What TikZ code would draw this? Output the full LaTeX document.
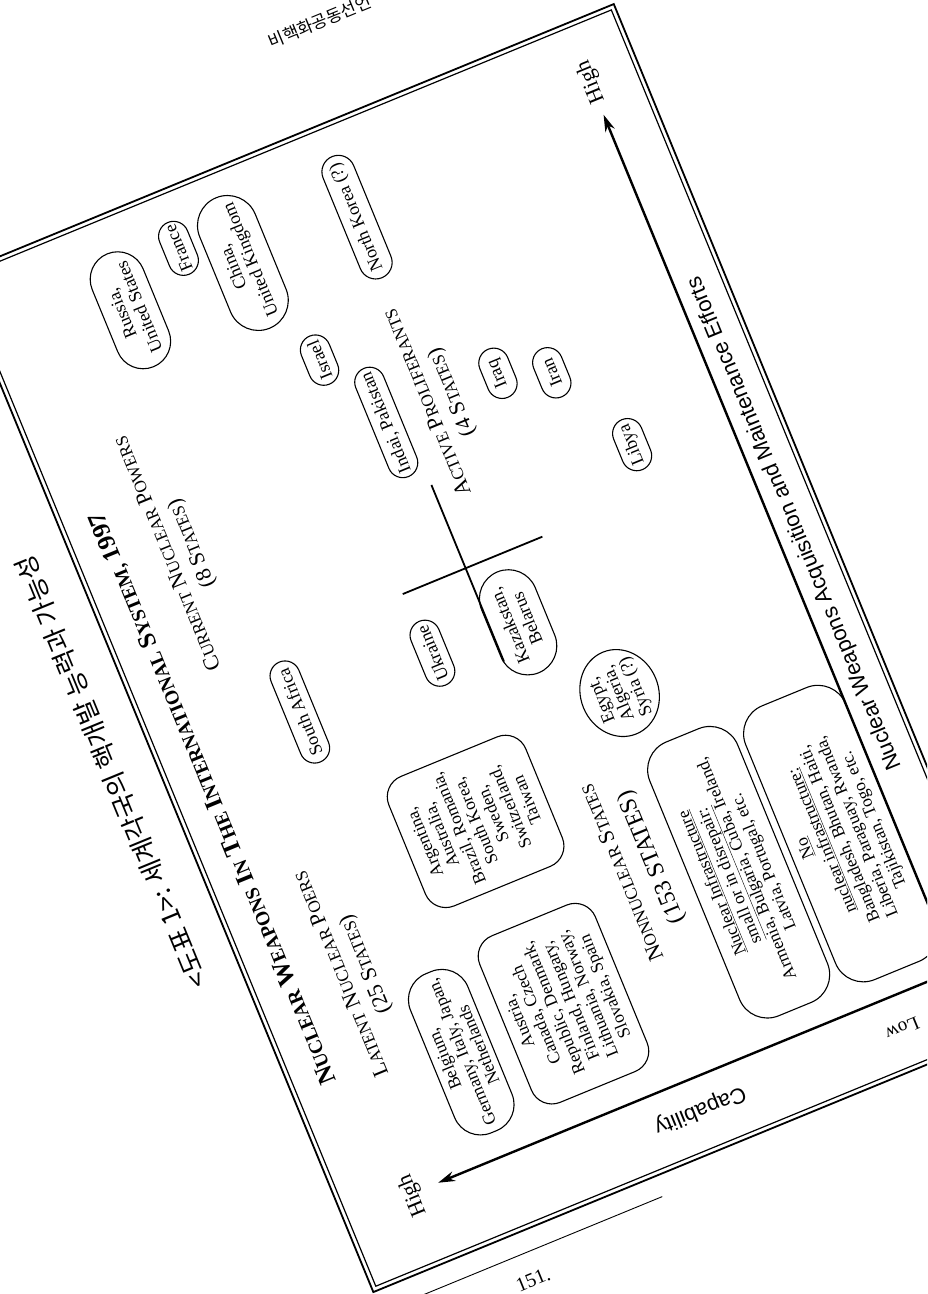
\documentclass[tikz,border=0pt]{standalone}
\usepackage{fontspec}
\setmainfont{Liberation Serif}
\setsansfont{Liberation Sans}
\newfontfamily\kor{Noto Sans CJK KR}
\usetikzlibrary{arrows.meta,shapes.misc,shapes.geometric}

% fake small capitals
\newcommand{\smc}[1]{\scalebox{0.78}{#1}}

\begin{document}
\begin{tikzpicture}[x=1pt,y=1pt,
  pill/.style={draw, rounded rectangle, line width=1.1pt, inner xsep=4pt, inner ysep=2pt,
    minimum height=30pt, align=center, font=\fontsize{18}{19}\selectfont},
  rbox/.style={draw, rounded corners=22pt, line width=1.1pt, align=center,
    font=\fontsize{17.5}{18.5}\selectfont},
  head/.style={align=center, font=\fontsize{22}{26}\selectfont},
  axis/.style={line width=2.4pt, -{Stealth[length=17pt,width=10pt]}},
  axlabel/.style={font=\sffamily\fontsize{22}{24}\selectfont},
  end/.style={font=\fontsize{22}{24}\selectfont}]

\useasboundingbox (0,0) rectangle (927,-1294);
\clip (0,0) rectangle (927,-1294);

% running head of the page
\node[anchor=south west, inner sep=0pt, rotate=22.34, font=\kor\fontsize{17}{17}\selectfont]
  (runhead) at (272,-50) {비핵화공동선언};

\begin{scope}[shift={(1026,-1019)}, rotate=112.34, transform shape]
  % caption, rule and page number
  \node[font=\kor\fontsize{26}{26}\selectfont] (caption) at (576,752)
    {<도표 1>: 세계각국의 핵개발 능력과 가능성};
  \coordinate (rule1) at (-26,404);
  \coordinate (rule2) at (-26,720);
  \draw[line width=0.9pt] (rule1) -- (rule2);
  \node[rotate=-90, font=\fontsize{20}{20}\selectfont] (pageno) at (-54,555) {151.};

  % frame
  \draw[line width=1.8pt] (-4.5,-4.5) rectangle (1095.5,707.5);
  \draw[line width=1.2pt] (0,0) rectangle (1091,703);

  % axes
  \coordinate (o) at (72,47);
  \coordinate (xend) at (997,47);
  \coordinate (yend) at (72,606);
  \draw[axis] (o) -- (xend);
  \draw[axis] (o) -- (yend);
  \node[end] (highx) at (1032,46) {High};
  \node[end] (highy) at (70,634) {High};
  \node[end, rotate=90, font=\fontsize{19}{20}\selectfont] (low) at (38,118) {Low};
  \node[axlabel, rotate=90] (capab) at (40,336) {Capability};
  \node[axlabel] (effort) at (546,25) {Nuclear Weapons Acquisition and Maintenance Efforts};

  % headings
  \node[head, font=\bfseries\fontsize{25}{27}\selectfont] (title) at (513,668)
    {N\smc{UCLEAR} W\smc{EAPONS} I\smc{N} T\smc{HE} I\smc{NTERNATIONAL} S\smc{YSTEM,} 1997};
  \node[head] (latent) at (302,602)
    {L\smc{ATENT} N\smc{UCLEAR} P\smc{OERS}\\(25 S\smc{TATES})};
  \node[head] (current) at (757,603)
    {C\smc{URRENT} N\smc{UCLEAR} P\smc{OWERS}\\(8 S\smc{TATES})};
  \node[head] (active) at (798,305)
    {A\smc{CTIVE} P\smc{ROLIFERANTS}\\(4 S\smc{TATES})};
  \node[head] (nonnuc1) at (289,319) {N\smc{ONNUCLEAR} S\smc{TATES}};
  \node[head, font=\fontsize{24}{26}\selectfont] (nonnuc2) at (292,284) {(153 STATES)};

  % cross
  \coordinate (crossw) at (529,347);
  \coordinate (crosse) at (720,347);
  \coordinate (crosss) at (630,264);
  \coordinate (crossn) at (630,415);
  \draw[line width=1.8pt] (crossw) -- (crosse) (crosss) -- (crossn);

  % current nuclear powers and proliferants
  \node[pill, minimum width=130pt, minimum height=55pt] (rususa) at (996,559) {Russia,\\United States};
  \node[pill, minimum width=64pt] (france) at (1035,491) {France};
  \node[pill, minimum width=140pt, minimum height=60pt] (chinauk) at (997,437) {China,\\United Kingdom};
  \node[pill, minimum width=139pt, minimum height=33pt] (nkorea) at (996,314) {North Korea (?)};
  \node[pill, minimum width=60pt] (israel) at (878,403) {Israel};
  \node[pill, minimum width=125pt] (indpak) at (795,365) {Indai, Pakistan};
  \node[pill, minimum width=60pt] (iraq) at (798,243) {Iraq};
  \node[pill, minimum width=60pt] (iran) at (778,193) {Iran};
  \node[pill, minimum width=62pt] (libya) at (681,146) {Libya};
  \node[pill, minimum width=116pt] (safrica) at (560,555) {South Africa};
  \node[pill, minimum width=77pt] (ukraine) at (564,410) {Ukraine};
  \node[pill, minimum width=117pt, minimum height=58pt] (kazbel) at (560,319) {Kazakstan,\\Belarus};
  \node[draw, ellipse, line width=1.1pt, inner sep=0pt, minimum width=88pt, minimum height=78pt,
    align=center, font=\fontsize{18}{18.5}\selectfont] (egypt) at (456,252) {Egypt,\\Algeria,\\Syria (?)};

  % latent and nonnuclear groups
  \node[rbox, minimum width=140pt, minimum height=148pt] (argbox) at (392,434)
    {Argentina,\\Australia,\\Brazil, Romania,\\South Korea,\\Sweden,\\Switzerland,\\Taiwan};
  \node[rbox, rounded corners=28pt, minimum width=172pt, minimum height=62pt] (belbox) at (184,535)
    {Belgium,\\Germany, Italy, Japan,\\Netherlands};
  \node[rbox, minimum width=180pt, minimum height=125pt] (ausbox) at (190,422)
    {Austria,\\Canada, Czech\\Republic, Denmark,\\Finland, Hungary,\\Lithuania, Norway,\\Slovakia, Spain};
  \node[rbox, rounded corners=30pt, minimum width=296pt, minimum height=95pt] (smallbox) at (245,210)
    {\underline{Nuclear Infrastructure}\\\underline{small or in disrepair:}\\Armenia, Bulgaria, Cuba, Ireland,\\Latvia, Portugal, etc.};
  \node[rbox, rounded corners=30pt, minimum width=296pt, minimum height=108pt] (nobox) at (242,101)
    {\underline{No}\\\underline{nuclear infrastructure:}\\Bangladesh, Bhutan, Haiti,\\Liberia, Paraguay, Rwanda,\\Tajikistan, Togo, etc.};
\end{scope}
\end{tikzpicture}
\end{document}
